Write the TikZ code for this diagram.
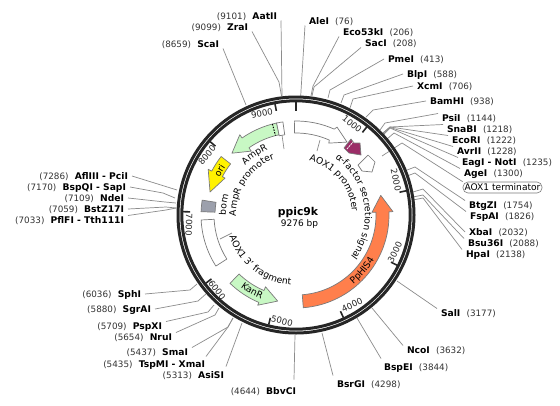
\documentclass[tikz,border=0pt]{standalone}
\usepackage{fontspec}
\setmainfont{DejaVu Sans}
\usetikzlibrary{decorations.text}
\newcount\leadno
\newcommand\rsite[5]{\node[sitename,anchor=west,xshift=-4pt] (#1) at (#2,-#3) {#4};
  \node[sitepos,anchor=west] (#1n) at ([xshift=2pt]#1.east) {(#5)};}
\newcommand\lsite[5]{\node[sitename,anchor=east,xshift=4pt] (#1) at (#2,-#3) {#4};
  \node[sitepos,anchor=east] (#1n) at ([xshift=-2pt]#1.west) {(#5)};}
\newcommand\leadB[5]{\global\advance\leadno by 1 \coordinate (end\the\leadno) at (#4,-#5); \draw[leader] (#1) -- (#2,-#3) -- (end\the\leadno);}
\newcommand\leadBB[6]{\coordinate (e#2) at (#5,-#6); \draw[leader] (#1) -- (#3,-#4) -- (e#2);}
\newcommand\leadSS[4]{\coordinate (e#2) at (#3,-#4); \draw[leader] (#1) -- (e#2);}
\newcommand\cwtext[4]{\path[decorate,decoration={text along path,text align=center,
  text={|\fontsize{#4}{11}\selectfont|#3}}] ({90-#1+85}:#2) arc[start angle={90-#1+85},delta angle=-170,radius=#2];}
\newcommand\ccwtext[4]{\path[decorate,decoration={text along path,text align=center,
  text={|\fontsize{#4}{11}\selectfont|#3}}] ({90-#1-85}:#2) arc[start angle={90-#1-85},delta angle=170,radius=#2];}
\newcommand\ticklab[5]{\node[ticktext,rotate=#5] (t#1) at (#2,-#3) {#4};}
\newcommand\ringtick[2]{\draw[ticklinemark] (#1:113) -- (#1:#2);}
\definecolor{ringc}{HTML}{262626}
\definecolor{leadc}{HTML}{8C8C8C}
\definecolor{featedge}{HTML}{7A7A7A}
\definecolor{gfill}{HTML}{C8F8C4}
\definecolor{ofill}{HTML}{FF7F4C}
\definecolor{pfill}{HTML}{9B2D67}
\definecolor{bfill}{HTML}{9CA0AC}
\tikzset{
  sitename/.style={font=\fontsize{9.2}{11}\selectfont\bfseries,inner sep=0pt,outer xsep=4pt,outer ysep=1pt,text height=7pt,text depth=0pt},
  sitepos/.style={font=\fontsize{8.8}{11}\selectfont,text=black!80,inner sep=0pt,text height=7pt,text depth=0pt},
  leader/.style={draw=leadc,line width=0.7pt},
  ticktext/.style={font=\fontsize{8.6}{10}\selectfont,inner sep=0pt,text=black!85},
  ticklinemark/.style={draw=ringc,line width=1.6pt},
  feat/.style={draw=featedge,line width=0.7pt,line join=round},
}
\begin{document}
\begin{tikzpicture}[x=1pt,y=1pt]
\useasboundingbox (0,0) rectangle (560,-405);
\fill[white] (0,0) rectangle (560,-405);

% --- site labels
\lsite{AatII}{277}{16}{AatII}{9101}
\lsite{ZraI}{248}{27}{ZraI}{9099}
\lsite{ScaI}{219}{44}{ScaI}{8659}
\rsite{AleI}{309}{21}{AleI}{76}
\rsite{EcoF}{343}{32}{Eco53kI}{206}
\rsite{SacI}{365}{43}{SacI}{208}
\rsite{PmeI}{388}{59}{PmeI}{413}
\rsite{BlpI}{407}{74}{BlpI}{588}
\rsite{XcmI}{417}{86}{XcmI}{706}
\rsite{BamHI}{430}{101}{BamHI}{938}
\rsite{PsiI}{442}{118}{PsiI}{1144}
\rsite{SnaBI}{447}{129}{SnaBI}{1218}
\rsite{EcoRI}{452}{140}{EcoRI}{1222}
\rsite{AvrII}{457}{151}{AvrII}{1228}
\rsite{EagI}{462}{162}{EagI - NotI}{1235}
\rsite{AgeI}{464}{173}{AgeI}{1300}
\rsite{BtgZI}{469}{205}{BtgZI}{1754}
\rsite{FspAI}{470}{216}{FspAI}{1826}
\rsite{XbaI}{469}{232}{XbaI}{2032}
\rsite{BsuI}{468}{243}{Bsu36I}{2088}
\rsite{HpaI}{466}{254}{HpaI}{2138}
\rsite{SalI}{441}{313}{SalI}{3177}
\rsite{NcoI}{407}{350}{NcoI}{3632}
\rsite{BspEI}{384}{367}{BspEI}{3844}
\rsite{BsrGI}{337}{384}{BsrGI}{4298}
\lsite{BbvCI}{296}{391}{BbvCI}{4644}
\lsite{AsiSI}{224}{375}{AsiSI}{5313}
\lsite{TspMI}{205}{364}{TspMI - XmaI}{5435}
\lsite{SmaI}{188}{352}{SmaI}{5437}
\lsite{NruI}{172}{337}{NruI}{5654}
\lsite{PspXI}{162}{326}{PspXI}{5709}
\lsite{SgrAI}{151}{309}{SgrAI}{5880}
\lsite{SphI}{141}{294}{SphI}{6036}
\lsite{AflIII}{128}{176}{AflIII - PciI}{7286}
\lsite{BspQI}{126}{187}{BspQI - SapI}{7170}
\lsite{NdeI}{124}{198}{NdeI}{7109}
\lsite{BstZ}{124}{209}{BstZ17I}{7059}
\lsite{PflFI}{124}{220}{PflFI - Tth111I}{7033}
\node[draw=featedge,line width=0.6pt,fill=white,rounded corners=5pt,minimum width=79pt,minimum height=11pt,inner sep=0pt,font=\fontsize{9.1}{10}\selectfont] (term) at (502.5,-187.5) {AOX1 terminator};

% --- leaders
\leadSS{AatII.south east}{AatII}{282}{96}
\leadBB{ZraI.south east}{ZraI}{279}{82}{281.5}{96}
\leadSS{ScaI.south east}{ScaI}{246}{105}
\leadSS{AleI.south west}{AleI}{300.7}{96}
\leadBB{EcoF.south west}{EcoF}{313}{86}{311}{96}
\leadBB{SacI.south west}{SacI}{314}{87}{312}{96}
\leadB{PmeI.west}{330}{90}{328}{98}
\leadB{BlpI.west}{344}{95}{341}{103}
\leadB{XcmI.west}{353}{99}{350}{108}
\leadB{BamHI.west}{373}{110}{366}{117}
\leadB{PsiI.north west}{385}{123}{380}{130}
\leadB{SnaBI.north west}{390}{127}{383}{133}
\leadB{EcoRI.north west}{390}{127}{383}{133}
\leadB{AvrII.north west}{390}{127.5}{383.5}{134}
\leadB{EagI.north west}{390}{128}{384}{134}
\leadB{AgeI.north west}{394}{133}{387}{139}
\leadBB{term.north west}{termL}{402}{143}{382}{156}
\leadB{BtgZI.north west}{415}{167}{407}{170}
\leadB{FspAI.north west}{415}{173}{407}{176}
\leadB{XbaI.west}{423}{189}{413}{192}
\leadB{BsuI.north west}{423}{195}{413}{197}
\leadB{HpaI.north west}{423}{198}{413}{200}
\leadSS{SalI.north west}{SalI}{397}{281}
\leadSS{NcoI.north west}{NcoI}{372}{308}
\leadSS{[shift={(1,4)}]BspEI.north west}{BspEI}{357}{318}
\leadSS{[shift={(0,4)}]BsrGI.north west}{BsrGI}{322}{333}
\leadSS{[shift={(-6,7)}]BbvCI.north east}{BbvCI}{295}{335}
\leadSS{[shift={(-2,4)}]AsiSI.north east}{AsiSI}{242}{323}
\leadBB{[shift={(-3,3)}]TspMI.north east}{TspMI}{228}{327}{233}{318}
\leadBB{SmaI.north east}{SmaI}{228}{327}{233}{318}
\leadB{NruI.north east}{215}{315}{219}{308}
\leadB{PspXI.north east}{208}{312}{214}{305}
\leadB{SgrAI.east}{198}{301}{207}{293}
\leadB{SphI.east}{190}{290}{197}{284}
\leadSS{AflIII.east}{AflIII}{177}{190}
\leadB{BspQI.east}{163}{193}{175}{198}
\leadB{NdeI.east}{165}{202}{176}{203}
\leadB{BstZ.east}{166}{207}{176}{208}
\leadB{PflFI.north east}{166}{210}{176}{208}

% --- ring, ticks, features (polar, centred on the ring)
\begin{scope}[shift={(296,-215)}]
\draw[ringc,line width=3pt] (0,0) circle[radius=118];
\draw[ringc,line width=3pt] (0,0) circle[radius=114.2];
\draw[ringc,line width=2.4pt] (90:113) -- (90:104);
\ringtick{51.2}{106}
\ringtick{12.4}{106}
\ringtick{-26.4}{106}
\ringtick{-65.2}{106}
\ringtick{-104}{106}
\ringtick{-142.9}{106}
\ringtick{178.3}{106}
\ringtick{139.5}{106}
\ringtick{100.7}{106}

% AOX1 promoter
\draw[feat,fill=white] (91:94) arc[start angle=91,end angle=66,radius=94] -- (65:97) -- (55:89) -- (65.5:79) -- (66:82) arc[start angle=66,end angle=91,radius=82] -- cycle;
% AmpR promoter box
\draw[feat,fill=white] (102:94) arc[start angle=102,end angle=98,radius=94] -- (98:81) arc[start angle=98,end angle=102,radius=81] -- cycle;
% AmpR
\draw[feat,fill=gfill] (102:94) arc[start angle=102,end angle=125,radius=94] -- (125:98) -- (136:89) -- (125:78) -- (125:82) arc[start angle=125,end angle=102,radius=82] -- cycle;
\draw[black,line width=1pt,dash pattern=on 1.5pt off 1.3pt] (104.5:94) -- (104.5:82);
% ori
\draw[feat,fill=yellow] (142:95) arc[start angle=142,end angle=152.5,radius=95] -- (152.5:99) -- (165:89) -- (152.5:80) -- (152.5:83) arc[start angle=152.5,end angle=142,radius=83] -- cycle;
% bom
\draw[feat,fill=bfill] (171:95) arc[start angle=171,end angle=178,radius=95] -- (178:81) arc[start angle=178,end angle=171,radius=81] -- cycle;
% AOX1 3' fragment
\draw[feat,fill=white] (-177:95) arc[start angle=-177,end angle=-147.5,radius=95] -- (-147.5:82) arc[start angle=-147.5,end angle=-177,radius=82] -- cycle;
% KanR
\draw[feat,fill=gfill] (-134:95) arc[start angle=-134,end angle=-113,radius=95] -- (-113:98) -- (-102:88) -- (-113:78) -- (-113:82) arc[start angle=-113,end angle=-134,radius=82] -- cycle;
% PpHIS4
\draw[feat,fill=ofill] (-85.5:93) arc[start angle=-85.5,end angle=2,radius=93] -- (2:97) -- (13:87) -- (2:76) -- (2:80) arc[start angle=2,end angle=-85.5,radius=80] -- cycle;

% curved labels
\cwtext{-34.5}{71}{AmpR}{9.2}
\cwtext{-56}{60}{AmpR promoter}{9.2}
\cwtext{50}{56}{AOX1 promoter}{9.2}
\cwtext{81}{69}{α-factor secretion signal}{9.2}
\ccwtext{218}{70}{AOX1 3' fragment}{9.2}
\ccwtext{210}{91}{KanR}{9.2}
\ccwtext{130}{90}{PpHIS4}{9.2}
\cwtext{-60}{85}{ori}{9.2}
\cwtext{-82}{70}{bom}{9.2}
\end{scope}

% alpha-factor signal and AOX1 terminator glyphs
\draw[feat,fill=pfill] (351,-139) -- (354,-143) -- (360,-143) -- (361,-155) -- (349,-153) -- (344,-148) -- cycle;
\draw[white,line width=0.8pt,dash pattern=on 2pt off 0.8pt] (347,-149) -- (353,-142);
\draw[feat,fill=white] (368,-155) -- (375,-162) -- (372,-172) -- (362,-171) -- (358,-165) -- cycle;

% feature label stubs
\coordinate (s1a) at (320,-140); \coordinate (s1b) at (317,-151); \draw[leader] (s1a) -- (s1b);
\coordinate (s2a) at (282,-135); \coordinate (s2b) at (284,-149); \draw[leader] (s2a) -- (s2b);
\coordinate (s3a) at (220,-239); \coordinate (s3b) at (232,-233); \draw[leader] (s3a) -- (s3b);

% tick labels
\ticklab{9}{262}{113}{9000}{10.7}
\ticklab{1}{352}{124}{1000}{-38.8}
\ticklab{2}{396}{180}{2000}{-77.6}
\ticklab{3}{395}{252}{3000}{63.6}
\ticklab{4}{352}{305}{4000}{24.8}
\ticklab{5}{282}{321}{5000}{-14}
\ticklab{6}{217}{290}{6000}{-52.9}
\ticklab{7}{189}{225}{7000}{-91.7}
\ticklab{8}{207}{155}{8000}{49.5}

% centre
\node[font=\fontsize{10.8}{12}\selectfont\bfseries,inner sep=0pt] (title) at (298,-213) {ppic9k};
\node[font=\fontsize{9}{11}\selectfont,inner sep=0pt] (size) at (299.5,-224.5) {9276 bp};
\end{tikzpicture}
\end{document}
